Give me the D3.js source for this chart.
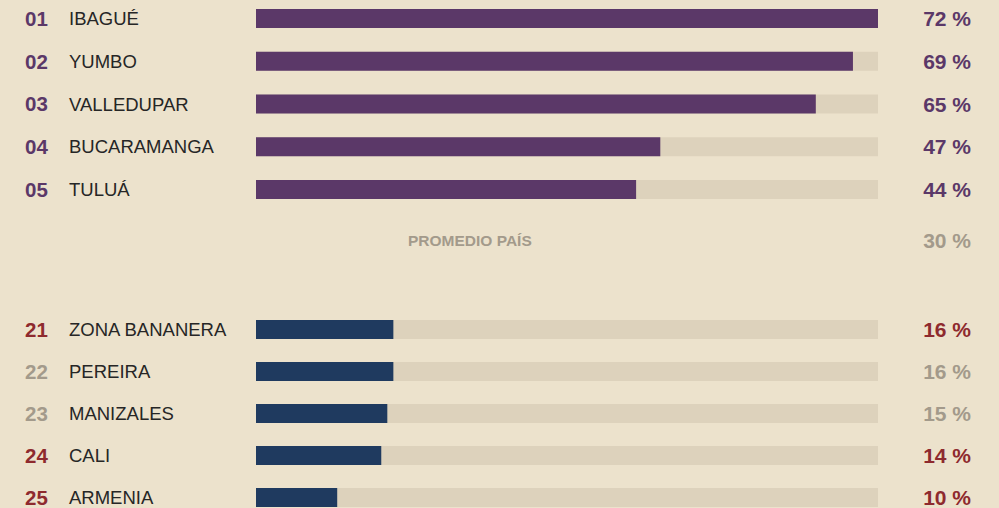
<!DOCTYPE html>
<html lang="es">
	<head>
		<meta charset="utf-8">
		<title>Ranking ciudades</title>
		<script type="text/javascript" src="https://cdn.jsdelivr.net/npm/d3@7"></script>
		<style type="text/css">
			html, body { margin: 0; padding: 0; background: #ECE2CC; }
			svg { display: block; }
			text { font-family: "Liberation Sans", Arial, sans-serif; }
		</style>
	</head>
	<body>
		<div id="chart"></div>

		<script type="text/javascript">

			//Width and height
			var w = 999;
			var h = 508;

			// top group
			var topRanks = ["01", "02", "03", "04", "05"];
			var topCities = ["IBAGUÉ", "YUMBO", "VALLEDUPAR", "BUCARAMANGA", "TULUÁ"];
			var topValues = [72, 69.1, 64.8, 46.8, 44.0];
			var topLabels = ["72 %", "69 %", "65 %", "47 %", "44 %"];
			var topTone = ["top", "top", "top", "top", "top"];

			// bottom group
			var botRanks = ["21", "22", "23", "24", "25"];
			var botCities = ["ZONA BANANERA", "PEREIRA", "MANIZALES", "CALI", "ARMENIA"];
			var botValues = [15.9, 15.9, 15.2, 14.5, 9.4];
			var botLabels = ["16 %", "16 %", "15 %", "14 %", "10 %"];
			var botTone = ["red", "gray", "gray", "red", "red"];

			// country average
			var avgLabel = "PROMEDIO PAÍS";
			var avgValue = "30 %";

			var colors = {
				top: "#5B3868",
				red: "#8E2A2E",
				gray: "#A39A8B",
				navy: "#1F3A5F",
				track: "#DDD2BC",
				name: "#262626"
			};

			var xScale = d3.scaleLinear()
				.domain([0, 72])
				.range([256, 878]);

			var yTop = d3.scalePoint()
				.domain(d3.range(topCities.length))
				.range([18.5, 189.5]);

			var yBot = d3.scalePoint()
				.domain(d3.range(botCities.length))
				.range([329.5, 497.5]);

			var barH = 19;

			var svg = d3.select("#chart")
				.append("svg")
				.attr("width", w)
				.attr("height", h);

			function drawGroup(ranks, cities, values, labels, tones, yScale, barColor) {
				var g = svg.append("g");
				var rows = g.selectAll("g")
					.data(d3.range(cities.length))
					.enter()
					.append("g")
					.attr("transform", function(i) {
						return "translate(0," + yScale(i) + ")";
					});

				// rank number
				rows.append("text")
					.attr("x", 25)
					.attr("dy", "0.36em")
					.attr("font-size", "20.5px")
					.attr("font-weight", "bold")
					.attr("fill", function(i) { return colors[tones[i]]; })
					.text(function(i) { return ranks[i]; });

				// city name
				rows.append("text")
					.attr("x", 69)
					.attr("dy", "0.36em")
					.attr("font-size", "18.5px")
					.attr("fill", colors.name)
					.text(function(i) { return cities[i]; });

				// track
				rows.append("rect")
					.attr("x", xScale(0))
					.attr("y", -barH / 2)
					.attr("width", xScale(72) - xScale(0))
					.attr("height", barH)
					.attr("fill", colors.track);

				// value bar
				rows.append("rect")
					.attr("x", xScale(0))
					.attr("y", -barH / 2)
					.attr("width", function(i) { return xScale(values[i]) - xScale(0); })
					.attr("height", barH)
					.attr("fill", barColor);

				// percentage
				rows.append("text")
					.attr("x", 971)
					.attr("dy", "0.36em")
					.attr("text-anchor", "end")
					.attr("font-size", "21px")
					.attr("font-weight", "bold")
					.attr("fill", function(i) { return colors[tones[i]]; })
					.text(function(i) { return labels[i]; });
			}

			drawGroup(topRanks, topCities, topValues, topLabels, topTone, yTop, colors.top);
			drawGroup(botRanks, botCities, botValues, botLabels, botTone, yBot, colors.navy);

			// promedio país row
			svg.append("text")
				.attr("x", 408)
				.attr("y", 240.5)
				.attr("dy", "0.36em")
				.attr("font-size", "15.5px")
				.attr("font-weight", "bold")
				.attr("fill", colors.gray)
				.text(avgLabel);

			svg.append("text")
				.attr("x", 971)
				.attr("y", 240)
				.attr("dy", "0.36em")
				.attr("text-anchor", "end")
				.attr("font-size", "21px")
				.attr("font-weight", "bold")
				.attr("fill", colors.gray)
				.text(avgValue);

		</script>
	</body>
</html>
